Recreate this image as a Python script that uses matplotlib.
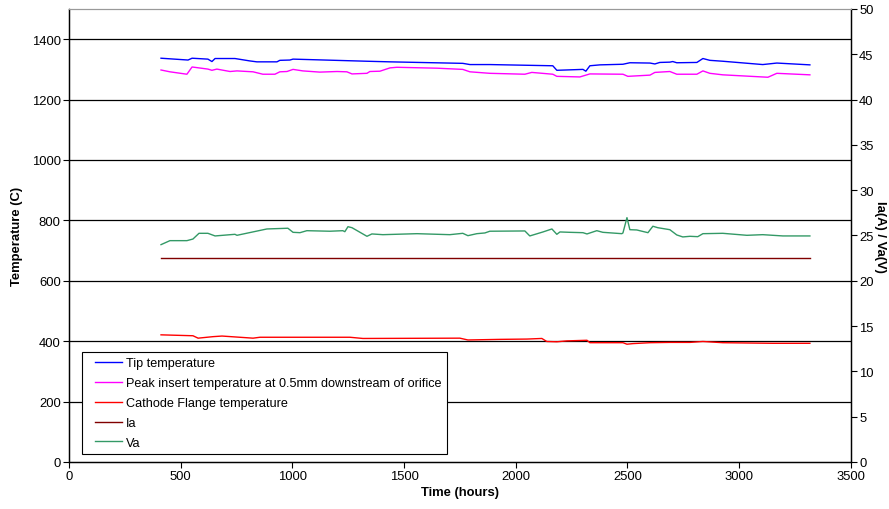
import matplotlib
matplotlib.use("Agg")
import matplotlib.pyplot as plt
from matplotlib.lines import Line2D
from matplotlib.legend_handler import HandlerLine2D
import numpy as np

plt.rcParams['font.family'] = ['Liberation Sans', 'DejaVu Sans']

# Tip temperature (C)
tip_t = [412, 533, 551, 622, 640, 654, 743, 810, 841, 931, 944, 989, 1003, 1334, 1437,
         1763, 1795, 1884, 2166, 2184, 2301, 2314, 2332, 2377, 2480, 2511, 2601, 2623,
         2645, 2690, 2703, 2721, 2811, 2838, 2869, 2927, 3106, 3169, 3317]
tip_v = [1337, 1331, 1337, 1334, 1326, 1336, 1336, 1328, 1325, 1325, 1330, 1331, 1334, 1327, 1325,
         1320, 1316, 1316, 1312, 1297, 1300, 1294, 1312, 1315, 1317, 1322, 1321, 1318,
         1323, 1324, 1326, 1322, 1323, 1336, 1330, 1327, 1316, 1321, 1315]

# Peak insert temperature at 0.5mm downstream of orifice (C)
ins_t = [412, 452, 528, 551, 622, 640, 662, 721, 752, 824, 868, 922, 944, 976, 1003, 1047,
         1123, 1200, 1244, 1267, 1334, 1347, 1392, 1437, 1468, 1647, 1763, 1795, 1884,
         2041, 2072, 2166, 2184, 2287, 2332, 2480, 2502, 2601, 2623, 2690, 2721, 2811,
         2838, 2869, 2927, 3129, 3169, 3317]
ins_v = [1298, 1292, 1284, 1308, 1301, 1297, 1301, 1293, 1295, 1292, 1284, 1284, 1292, 1293, 1300, 1295,
         1291, 1293, 1292, 1285, 1287, 1293, 1294, 1305, 1307, 1304, 1300, 1292, 1287,
         1284, 1290, 1284, 1277, 1275, 1285, 1284, 1277, 1281, 1290, 1293, 1284, 1284,
         1295, 1287, 1282, 1274, 1287, 1282]

# Cathode Flange temperature (C)
fl_t = [412, 555, 578, 645, 685, 824, 855, 1258, 1316, 1750, 1786, 1929, 2050, 2117, 2139,
        2184, 2229, 2319, 2332, 2480, 2498, 2525, 2601, 2690, 2780, 2838, 2927, 3151, 3317]
fl_v = [421, 418, 410, 415, 417, 410, 413, 413, 409, 410, 404, 406, 407, 409, 399,
        398, 401, 403, 395, 395, 390, 392, 395, 396, 396, 399, 395, 393, 393]

# Ia (A)
ia_t = [412, 1000, 2000, 3317]
ia_v = [22.5, 22.5, 22.5, 22.5]

# Va (V)
va_t = [412, 452, 528, 555, 582, 622, 654, 743, 752, 886, 980, 1003, 1034, 1065, 1168, 1226,
        1235, 1249, 1267, 1334, 1356, 1405, 1558, 1705, 1763, 1786, 1826, 1862, 1884,
        2041, 2063, 2122, 2162, 2184, 2198, 2242, 2301, 2319, 2363, 2390, 2475, 2480,
        2498, 2511, 2542, 2565, 2592, 2614, 2636, 2690, 2721, 2748, 2780, 2815, 2838,
        2927, 3035, 3106, 3196, 3317]
va_v = [23.99, 24.43, 24.43, 24.61, 25.24, 25.24, 24.95, 25.13, 25.02, 25.72, 25.80, 25.35, 25.31, 25.53, 25.47, 25.53,
        25.42, 25.97, 25.86, 24.91, 25.17, 25.09, 25.20, 25.09, 25.24, 24.98, 25.20, 25.28, 25.47,
        25.50, 24.95, 25.39, 25.72, 25.13, 25.39, 25.35, 25.31, 25.17, 25.53, 25.35, 25.20, 25.28,
        26.97, 25.64, 25.61, 25.47, 25.31, 26.02, 25.86, 25.64, 25.06, 24.84, 24.91, 24.87, 25.20,
        25.24, 25.02, 25.09, 24.95, 24.95]

fs = 9.4
fig = plt.figure(figsize=(8.89, 5.10), dpi=100)
ax = fig.add_axes([0.0776, 0.0922, 0.8794, 0.8882])
ax2 = ax.twinx()

for y in range(200, 1600, 200):
    ax.axhline(y, color='black', lw=0.9, zorder=0)

l1, = ax.plot(tip_t, tip_v, color='#0000FF', lw=1.0, label='Tip temperature')
l2, = ax.plot(ins_t, ins_v, color='#FF00FF', lw=1.0,
              label='Peak insert temperature at 0.5mm downstream of orifice')
l3, = ax.plot(fl_t, fl_v, color='#FF0000', lw=1.0, label='Cathode Flange temperature')
l4, = ax2.plot(ia_t, ia_v, color='#800000', lw=1.0, label='Ia')
l5, = ax2.plot(va_t, va_v, color='#339966', lw=1.0, label='Va')

ax.set_xlim(0, 3500)
ax.set_ylim(0, 1500)
ax2.set_ylim(0, 50)
ax.set_xticks(range(0, 3501, 500))
ax.set_yticks(range(0, 1401, 200))
ax2.set_yticks(range(0, 51, 5))

for a in (ax, ax2):
    a.tick_params(labelsize=fs, length=4, width=0.8, direction='out', pad=2)
    a.spines['top'].set_color('#999999')
    for s in ('left', 'right', 'bottom'):
        a.spines[s].set_linewidth(0.9)

ax.set_xlabel('Time (hours)', fontsize=fs, fontweight='bold', labelpad=3)
ax.set_ylabel('Temperature (C)', fontsize=fs, fontweight='bold', labelpad=6)
ax2.set_ylabel('Ia(A) / Va(V)', fontsize=fs, fontweight='bold', rotation=270,
               va='center', ha='center')
ax2.yaxis.set_label_coords(1.038, 0.5)

leg = ax2.legend(handles=[l1, l2, l3, l4, l5], loc='lower left',
                 bbox_to_anchor=(0.0166, 0.0177), borderaxespad=0, fontsize=9.1,
                 frameon=True, fancybox=False, shadow=False, edgecolor='black',
                 framealpha=1, labelspacing=0.63, handlelength=2.8, handletextpad=0.3,
                 borderpad=0.4, handler_map={Line2D: HandlerLine2D(xpad=0.65)})
leg.get_frame().set_linewidth(0.8)

fig.savefig('out.png', dpi=100)
